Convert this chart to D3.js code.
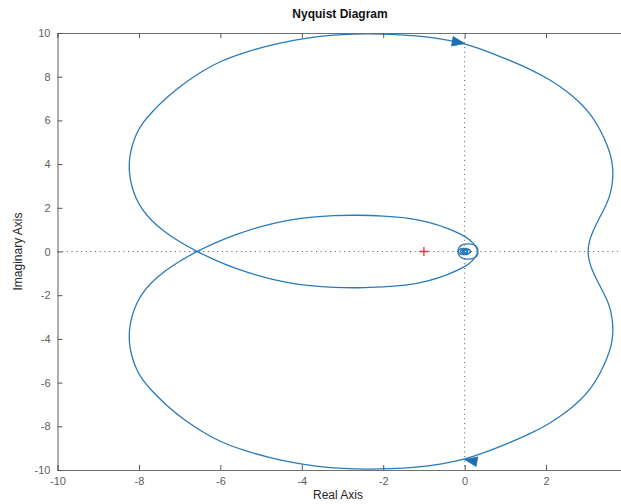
<!DOCTYPE html>
<html>
<head>
<meta charset="utf-8">
<script src="https://cdn.jsdelivr.net/npm/d3@7"></script>
<style>
  html, body { margin: 0; padding: 0; background: #fff; }
  svg { display: block; }
</style>
</head>
<body>
<svg id="chart" width="621" height="504"></svg>
<script>
// One frequency branch of the Nyquist locus (real / imaginary parts),
// running from the DC point on the right, over the top, round the left lobe
// and through the inner loop to its tip near the origin.
const branchRe = [3.02, 3.06, 3.16, 3.30, 3.47, 3.57, 3.63, 3.65, 3.60, 3.50, 3.33, 3.12, 2.84,
  2.50, 2.10, 1.60, 1.04, 0.50, 0.00, -0.60, -1.20, -1.80, -2.40, -3.00, -3.60, -4.20, -4.80,
  -5.40, -6.00, -6.46, -6.90, -7.31, -7.69, -7.91, -8.07, -8.18, -8.24, -8.24, -8.18, -8.07,
  -7.91, -7.69, -7.40, -7.03, -6.58, -6.10, -5.60, -5.00, -4.40, -3.80, -3.20, -2.60, -2.00,
  -1.40, -0.90, -0.43, 0.06, 0.22, 0.31, 0.33];
const branchIm = [0.00, 0.50, 0.98, 1.50, 2.10, 2.55, 3.10, 3.73, 4.35, 4.88, 5.58, 6.22, 6.82,
  7.35, 7.86, 8.36, 8.80, 9.20, 9.52, 9.74, 9.88, 9.95, 9.97, 9.94, 9.85, 9.68, 9.43,
  9.12, 8.72, 8.24, 7.69, 7.07, 6.37, 5.90, 5.37, 4.80, 4.20, 3.58, 2.98, 2.41,
  1.88, 1.41, 0.94, 0.47, 0.00, -0.42, -0.80, -1.15, -1.42, -1.58, -1.65, -1.67, -1.62,
  -1.55, -1.36, -1.08, -0.66, -0.38, -0.12, 0.05];

// High-frequency tail of the same branch: the spiral into the origin
const spiralRe = [0.33, 0.30, 0.22, 0.08, -0.06, -0.14, -0.16, -0.12, -0.03, 0.08, 0.14, 0.13,
  0.07, -0.02, -0.09, -0.10, -0.05, 0.02, 0.07, 0.06, 0.02, -0.03, -0.04, -0.01, 0.00];
const spiralIm = [0.05, 0.20, 0.31, 0.35, 0.30, 0.17, 0.02, -0.10, -0.14, -0.12, -0.04, 0.05,
  0.10, 0.11, 0.05, -0.02, -0.07, -0.08, -0.03, 0.03, 0.05, 0.04, 0.00, -0.02, 0.00];

// Direction arrows: tail and tip of each arrowhead (re, im)
const arrowTail = [[-0.30, 9.62], [0.30, -9.62]];
const arrowTip  = [[0.00, 9.52], [0.00, -9.52]];

// Critical point -1 + 0j
const criticalPoint = [-1, 0];

const xTicks = [-10, -8, -6, -4, -2, 0, 2];
const yTicks = [-10, -8, -6, -4, -2, 0, 2, 4, 6, 8, 10];

const svg = d3.select("#chart");
const plotLeft = 57.5, plotRight = 627.5, plotTop = 33, plotBottom = 470;
const x = d3.scaleLinear().domain([-10, 4]).range([plotLeft, plotRight]);
const y = d3.scaleLinear().domain([-10, 10]).range([plotBottom, plotTop]);

svg.append("rect").attr("width", 621).attr("height", 504).attr("fill", "#fff");

// Dotted zero lines
const zero = svg.append("g").attr("stroke", "#444").attr("stroke-width", 0.9)
  .attr("stroke-dasharray", "1,3.7").attr("fill", "none");
zero.append("line").attr("x1", x(-10)).attr("x2", x(4)).attr("y1", y(0)).attr("y2", y(0));
zero.append("line").attr("x1", x(0)).attr("x2", x(0)).attr("y1", y(10)).attr("y2", y(-10));

// Outer locus: this branch reversed, then its complex conjugate
const pts = branchRe.map((r, i) => [r, branchIm[i]]);
const outer = pts.slice().reverse().concat(pts.slice(1).map(p => [p[0], -p[1]]));
const spiral = spiralRe.map((r, i) => [r, spiralIm[i]]);
const conj = a => a.map(p => [p[0], -p[1]]);

const stroke = "#2a7ab8";
const smooth = d3.line().x(d => x(d[0])).y(d => y(d[1])).curve(d3.curveBasis);
const tight = d3.line().x(d => x(d[0])).y(d => y(d[1])).curve(d3.curveCatmullRom.alpha(0.5));
const locus = svg.append("g").attr("fill", "none").attr("stroke", stroke)
  .attr("stroke-width", 1.3).attr("stroke-linejoin", "round");
locus.append("path").attr("d", smooth(outer));
locus.append("path").attr("d", tight(spiral));
locus.append("path").attr("d", tight(conj(spiral)));

// Arrowheads
arrowTip.forEach((tp, i) => {
  const tl = arrowTail[i];
  const tx = x(tp[0]), ty = y(tp[1]), bx = x(tl[0]), by = y(tl[1]);
  const dx = tx - bx, dy = ty - by, len = Math.hypot(dx, dy);
  const ux = dx / len, uy = dy / len, L = 12.5, W = 4.8;
  const cx = tx - ux * L, cy = ty - uy * L;
  const tri = [[tx, ty], [cx - uy * W, cy + ux * W], [cx + uy * W, cy - ux * W]];
  svg.append("path").attr("d", "M" + tri.map(p => p.join(",")).join("L") + "Z")
    .attr("fill", "#1f6fb0").attr("stroke", "#1f6fb0").attr("stroke-width", 0.8);
});

// Critical point marker
svg.append("path")
  .attr("d", `M${x(criticalPoint[0]) - 4.5},${y(criticalPoint[1])}h9M${x(criticalPoint[0])},${y(criticalPoint[1]) - 4.5}v9`)
  .attr("stroke", "#e8322a").attr("stroke-width", 1.3);

// Axes (ticks pointing inward)
const axisColor = "#707070";
const font = "'Liberation Sans', Arial, sans-serif";
const fmt = d => String(d);
const xb = svg.append("g").attr("transform", `translate(0,${plotBottom})`)
  .call(d3.axisBottom(x).tickValues(xTicks).tickSize(-5).tickPadding(7).tickFormat(fmt));
const xt = svg.append("g").attr("transform", `translate(0,${plotTop})`)
  .call(d3.axisTop(x).tickValues(xTicks).tickSize(-5).tickFormat(""));
const yl = svg.append("g").attr("transform", `translate(${plotLeft},0)`)
  .call(d3.axisLeft(y).tickValues(yTicks).tickSize(-5).tickPadding(7).tickFormat(fmt));
[xb, xt, yl].forEach(g => {
  g.select(".domain").attr("stroke", axisColor).attr("stroke-width", 1.1);
  g.selectAll(".tick line").attr("stroke", "#555").attr("stroke-width", 1);
  g.selectAll(".tick text").attr("fill", "#5e5e5e").style("font-family", font).style("font-size", "11px");
});

// Titles
svg.append("text").attr("x", 340).attr("y", 18).attr("text-anchor", "middle")
  .style("font-family", font).style("font-size", "12px").style("font-weight", "bold")
  .attr("fill", "#111").text("Nyquist Diagram");
svg.append("text").attr("x", 338).attr("y", 499).attr("text-anchor", "middle")
  .style("font-family", font).style("font-size", "12px").attr("fill", "#262626").text("Real Axis");
svg.append("text").attr("transform", `translate(22,${y(0)}) rotate(-90)`).attr("text-anchor", "middle")
  .style("font-family", font).style("font-size", "12px").attr("fill", "#262626").text("Imaginary Axis");
</script>
</body>
</html>
